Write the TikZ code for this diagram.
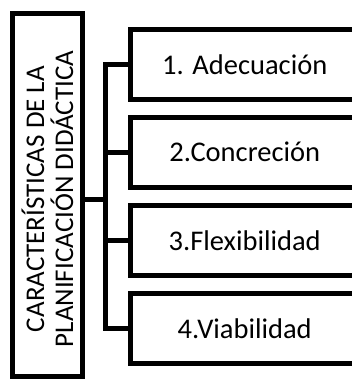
\documentclass[tikz,border=0pt]{standalone}
\usepackage{fontspec}
\setmainfont{Carlito}
\begin{document}
\begin{tikzpicture}[x=1pt,y=-1pt,
  frame/.style={draw=black,line width=5pt,line join=miter,inner sep=0pt,outer sep=0pt},
  mainbox/.style={frame,minimum width=70pt,minimum height=363pt},
  itembox/.style={frame,minimum width=228.5pt,minimum height=70pt,anchor=west,
     font=\fontsize{28.5}{30}\selectfont},
  link/.style={draw=black,line width=5pt,line join=miter}]
\clip (0,0) rectangle (352,380);
\fill[white] (0,0) rectangle (352,380);
\node[mainbox] (L) at (47.5,195) {};
\node[rotate=90,align=center,font=\fontsize{27}{29}\selectfont,inner sep=0pt] (T) at (47.5,199)
  {CARACTERÍSTICAS DE LA\\PLANIFICACIÓN DIDÁCTICA};
\node[itembox] (B1) at (130.5,64.5) {1. Adecuación};
\node[itembox] (B2) at (130.5,152) {2.Concreción};
\node[itembox] (B3) at (130.5,240.5) {3.Flexibilidad};
\node[itembox] (B4) at (130.5,328.5) {4.Viabilidad};
\coordinate (J) at (105.5,199);
\draw[link] (L.east |- J) -- (J);
\draw[link] (B1.west) -- (B1.west -| J) -- (B4.west -| J) -- (B4.west);
\draw[link] (B2.west) -- (B2.west -| J);
\draw[link] (B3.west) -- (B3.west -| J);
\end{tikzpicture}
\end{document}
